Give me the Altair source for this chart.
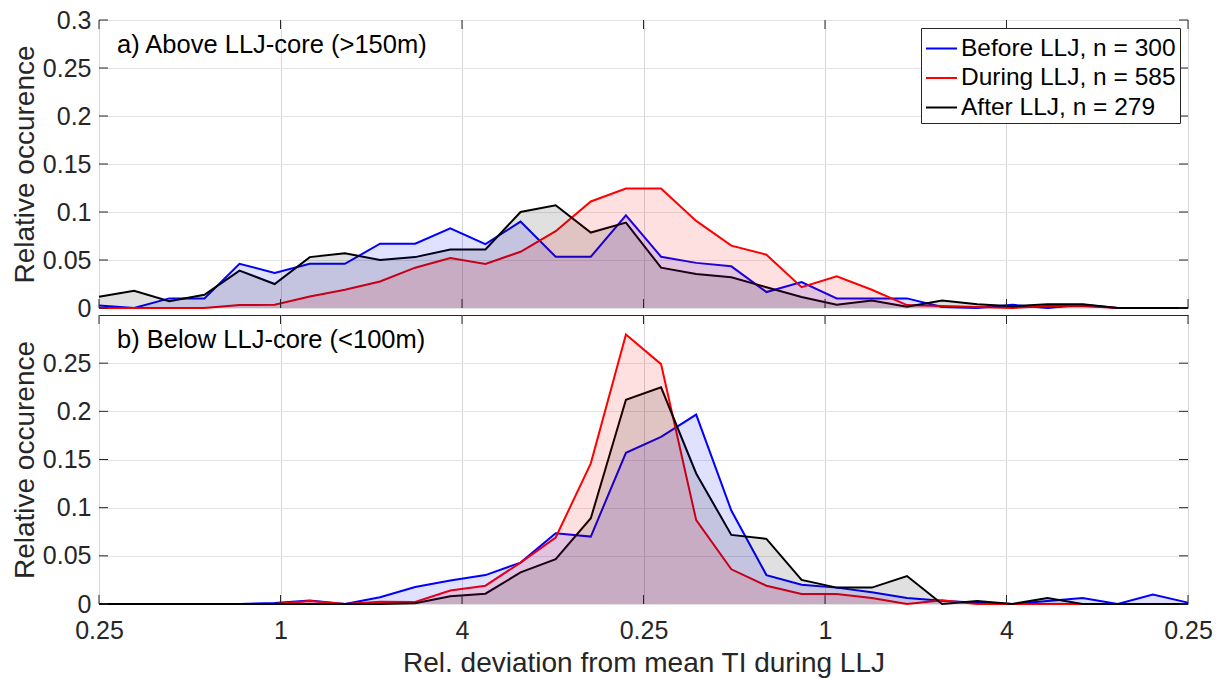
import altair as alt
import pandas as pd

FONT = "Liberation Sans"
series_names = ["Before LLJ, n = 300", "During LLJ, n = 585", "After LLJ, n = 279"]
series_colors = ["#0000ff", "#ff0000", "#000000"]
panel_labels = ["a) Above LLJ-core (>150m)", "b) Below LLJ-core (<100m)"]

bin_index = list(range(32))

above_before = [0.0025, 0.0, 0.010, 0.010, 0.046, 0.0366, 0.046, 0.046, 0.067, 0.067,
                0.083, 0.0666, 0.090, 0.0534, 0.0534, 0.0966, 0.0534, 0.047, 0.0434, 0.0166,
                0.027, 0.010, 0.010, 0.010, 0.001, 0.0, 0.0033, 0.0, 0.0033, 0.0, 0.0, 0.0]
above_during = [0.0, 0.0, 0.0, 0.0, 0.003, 0.0035, 0.012, 0.019, 0.0276, 0.042,
                0.052, 0.0459, 0.0586, 0.080, 0.111, 0.1245, 0.1245, 0.0907, 0.065, 0.0555,
                0.0217, 0.033, 0.019, 0.003, 0.002, 0.001, 0.0, 0.002, 0.002, 0.0, 0.0, 0.0]
above_after = [0.0117, 0.018, 0.007, 0.0138, 0.039, 0.025, 0.053, 0.057, 0.050, 0.053,
               0.061, 0.061, 0.100, 0.107, 0.0786, 0.089, 0.042, 0.0355, 0.032, 0.0217,
               0.0114, 0.0035, 0.0078, 0.0014, 0.0078, 0.004, 0.0018, 0.004, 0.004, 0.0, 0.0, 0.0]

below_before = [0.0, 0.0, 0.0, 0.0, 0.0, 0.001, 0.0035, 0.0, 0.007, 0.0176,
                0.0245, 0.030, 0.043, 0.0734, 0.070, 0.157, 0.1734, 0.1966, 0.097, 0.030,
                0.020, 0.017, 0.0123, 0.0063, 0.0035, 0.0014, 0.0, 0.003, 0.0063, 0.0, 0.0099, 0.0014]
below_during = [0.0, 0.0, 0.0, 0.0, 0.0, 0.0, 0.003, 0.0, 0.0024, 0.002,
                0.014, 0.019, 0.043, 0.069, 0.146, 0.2797, 0.249, 0.087, 0.036, 0.019,
                0.0103, 0.0103, 0.0063, 0.0, 0.004, 0.0, 0.0, 0.0, 0.0, 0.0, 0.0, 0.0]
below_after = [0.0, 0.0, 0.0, 0.0, 0.0, 0.0, 0.0, 0.0, 0.0, 0.0007,
               0.008, 0.0107, 0.0328, 0.0466, 0.089, 0.212, 0.225, 0.1355, 0.0717, 0.0676,
               0.025, 0.017, 0.017, 0.029, 0.0, 0.003, 0.0, 0.0063, 0.0, 0.0, 0.0, 0.0]

x_tick_positions = [0, 31 / 6, 31 / 3, 15.5, 62 / 3, 155 / 6, 31]
x_tick_labels = ["0.25", "1", "4", "0.25", "1", "4", "0.25"]
y_ticks_a = [0, 0.05, 0.1, 0.15, 0.2, 0.25, 0.3]
y_ticks_b = [0, 0.05, 0.1, 0.15, 0.2, 0.25]

W = 1089
H_A = 288
H_B = 289
TICK = 9
INK = "#262626"


def long_df(series_lists):
    rows = []
    for name, vals in zip(series_names, series_lists):
        for i, v in zip(bin_index, vals):
            rows.append({"idx": i, "value": v, "series": name, "band": name})
    return pd.DataFrame(rows)


# MATLAB-like labels sit a little left of the "1" and "4" grid lines
shifted = [t if t == "0.25" else t + "\u2007\u2008" for t in x_tick_labels]
label_expr = "[" + ",".join("'" + t + "'" for t in shifted) + "][round(datum.value*6/31)]"


def panel(df, label, height, show_legend, bottom, y_ticks):
    x_axis = alt.Axis(
        values=x_tick_positions,
        grid=True, gridColor="#d6d6d6", gridWidth=1,
        labels=bottom, labelExpr=label_expr, labelPadding=14 if bottom else 0,
        labelFlush=False, labelOverlap=False,
        title="Rel. deviation from mean TI during LLJ" if bottom else None,
        titleY=67, titleBaseline="alphabetic",
    )
    y_axis = alt.Axis(
        values=y_ticks, format=".2~f", grid=True, gridColor="#e3e3e3",
        labelPadding=8, labelFlush=False, labelOverlap=False,
        title="Relative occurence", titleX=-66, titleY=height / 2,
        titleBaseline="alphabetic", titleAngle=270, titleAlign="center",
    )
    X = alt.X("idx:Q", scale=alt.Scale(domain=[0, 31], nice=False, zero=False), axis=x_axis)
    Y = alt.Y("value:Q", scale=alt.Scale(domain=[0, 0.3], nice=False), axis=y_axis, stack=None)
    Xp = alt.X("idx:Q")
    Yp = alt.Y("value:Q", stack=None)

    fill_scale = alt.Scale(domain=series_names, range=series_colors)
    line_scale = alt.Scale(domain=series_names, range=series_colors)

    base = alt.Chart(df)
    areas = base.mark_area(fillOpacity=0.12, strokeWidth=0).encode(
        x=X, y=Y,
        fill=alt.Fill("band:N", scale=fill_scale, legend=None),
    )
    if show_legend:
        color_enc = alt.Color(
            "series:N", scale=line_scale,
            legend=alt.Legend(
                orient="top-right", offset=8, title=None,
                symbolType="stroke", symbolSize=960, symbolStrokeWidth=2,
                labelFontSize=24.5, labelFont=FONT, labelColor="#000000", labelLimit=400,
                labelOffset=3, fillColor="#ffffff", strokeColor=INK, padding=4,
                rowPadding=1.5,
            ),
        )
    else:
        color_enc = alt.Color("series:N", scale=line_scale, legend=None)
    lines = base.mark_line(strokeWidth=2).encode(x=Xp, y=Yp, color=color_enc)

    xt = pd.DataFrame({"idx": x_tick_positions})
    yt = pd.DataFrame({"value": y_ticks})
    tick_bottom = alt.Chart(xt).mark_rule(color=INK, strokeWidth=1).encode(
        x=Xp, y=alt.value(height), y2=alt.value(height - TICK))
    tick_top = alt.Chart(xt).mark_rule(color=INK, strokeWidth=1).encode(
        x=Xp, y=alt.value(0), y2=alt.value(TICK))
    tick_left = alt.Chart(yt).mark_rule(color=INK, strokeWidth=1).encode(
        y=Yp, x=alt.value(0), x2=alt.value(TICK))
    tick_right = alt.Chart(yt).mark_rule(color=INK, strokeWidth=1).encode(
        y=Yp, x=alt.value(W - TICK), x2=alt.value(W))

    txt = alt.Chart(pd.DataFrame({"t": [label]})).mark_text(
        align="left", baseline="alphabetic", fontSize=25.5, font=FONT, color="#000000"
    ).encode(text="t:N", x=alt.value(18), y=alt.value(33))

    return alt.layer(lines, areas, tick_bottom, tick_top, tick_left, tick_right, txt).properties(
        width=W, height=height)


pa = panel(long_df([above_before, above_during, above_after]), panel_labels[0], H_A, True, False, y_ticks_a)
pb = panel(long_df([below_before, below_during, below_after]), panel_labels[1], H_B, False, True, y_ticks_b)

chart = alt.vconcat(pa, pb, spacing=7, bounds="flush").resolve_scale(
    color="independent", fill="independent"
).resolve_legend(color="independent", fill="independent").properties(
    padding={"left": 10, "top": 7, "right": 12, "bottom": 5},
).configure_view(
    stroke=INK, strokeWidth=1
).configure_axis(
    domain=False, ticks=False,
    labelFont=FONT, labelFontSize=25, labelColor=INK,
    titleFont=FONT, titleFontSize=28, titleColor=INK, titleFontWeight="normal",
)

chart.save("out.html", embed_options={"renderer": "svg", "actions": False})
